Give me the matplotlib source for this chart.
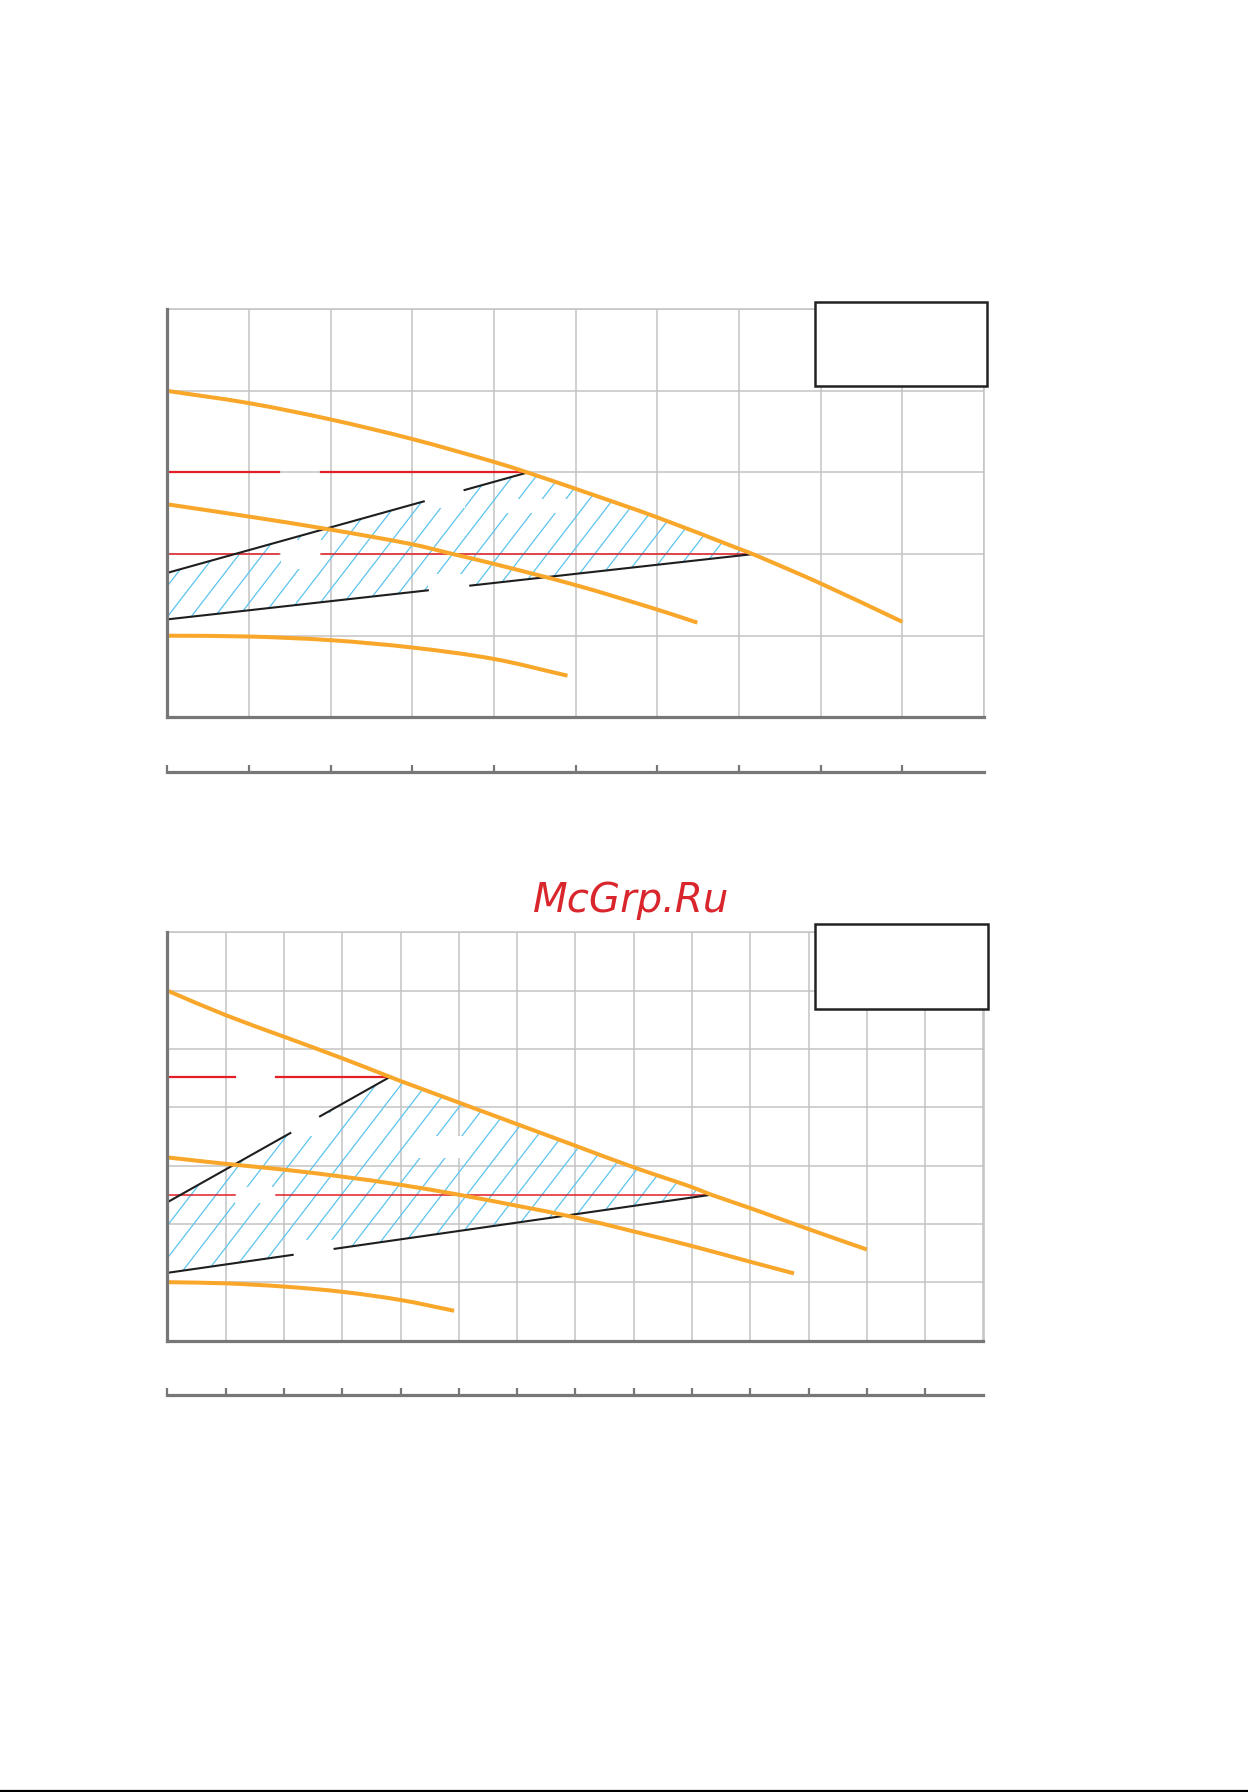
import numpy as np
import matplotlib
matplotlib.use("Agg")
import matplotlib.pyplot as plt
from matplotlib.patches import Polygon, Rectangle, PathPatch
from matplotlib.path import Path
from matplotlib.lines import Line2D

# ---------------- data (grid units) ----------------
# Chart 1
top1_x = [0, 1, 2, 3, 4, 4.41, 5, 6, 7, 7.17, 8, 9.0]
top1_y = [4.0, 3.85, 3.65, 3.41, 3.13, 3.0, 2.80, 2.45, 2.065, 2.0, 1.64, 1.17]
mid1_x = [0, 1, 2, 3, 3.5, 4, 5, 6, 6.49]
mid1_y = [2.61, 2.46, 2.30, 2.12, 2.0, 1.88, 1.62, 1.32, 1.16]
bot1_x = [0, 1, 2, 3, 4, 4.9]
bot1_y = [1.0, 0.99, 0.945, 0.855, 0.715, 0.51]
red1_levels = [3.0, 2.0]
red1_ends = [4.41, 7.17]
red1_gap = [1.37, 1.88]
blk1_upper = [(0, 1.77), (4.41, 3.0)]
blk1_upper_gap = [3.14, 3.64]
blk1_lower = [(0, 1.2), (7.17, 2.0)]
blk1_lower_gap = [3.19, 3.71]

# Chart 2
top2_x = [0, 1, 2, 3, 3.82, 4, 5, 6, 7, 8, 9, 9.33, 10, 11, 12.0]
top2_y = [6.0, 5.58, 5.21, 4.84, 4.52, 4.45, 4.08, 3.71, 3.34, 2.97, 2.63, 2.5, 2.27, 1.91, 1.56]
mid2_x = [0, 1, 2, 3, 4, 5, 6, 7, 8, 9, 10, 10.75]
mid2_y = [3.14, 3.03, 2.93, 2.81, 2.67, 2.50, 2.31, 2.11, 1.87, 1.62, 1.35, 1.15]
bot2_x = [0, 1, 2, 3, 4, 4.92]
bot2_y = [1.0, 0.98, 0.925, 0.835, 0.695, 0.51]
red2_levels = [4.52, 2.5]
red2_ends = [3.82, 9.33]
red2_gap = [1.16, 1.87]
blk2_upper = [(0, 2.37), (3.82, 4.52)]
blk2_upper_gap = [2.11, 2.62]
blk2_lower = [(0, 1.16), (9.33, 2.5)]
blk2_lower_gap = [2.15, 2.87]

ORANGE = '#F8A72A'
RED = '#E31E25'
BLACK = '#1e1e1e'
GRID = '#c3c3c3'
AXGRAY = '#777777'
HATCH = '#5cc4ee'

W, H = 1248, 1792
fig = plt.figure(figsize=(W / 100, H / 100), dpi=100)


def frac_rect(x0, y0, x1, y1):
    return [x0 / W, 1 - y1 / H, (x1 - x0) / W, (y1 - y0) / H]


def smooth_path(xs, ys):
    """Cubic Hermite (Bezier) path through the given points."""
    x = np.asarray(xs, float)
    y = np.asarray(ys, float)
    n = len(x)
    m = np.empty(n)
    m[0] = (y[1] - y[0]) / (x[1] - x[0])
    m[-1] = (y[-1] - y[-2]) / (x[-1] - x[-2])
    for i in range(1, n - 1):
        m[i] = (y[i + 1] - y[i - 1]) / (x[i + 1] - x[i - 1])
    verts = [(x[0], y[0])]
    codes = [Path.MOVETO]
    for i in range(n - 1):
        h = x[i + 1] - x[i]
        verts += [(x[i] + h / 3, y[i] + m[i] * h / 3),
                  (x[i + 1] - h / 3, y[i + 1] - m[i + 1] * h / 3),
                  (x[i + 1], y[i + 1])]
        codes += [Path.CURVE4] * 3
    return Path(verts, codes)


def seg_with_gap(ax, p0, p1, gap, **kw):
    (x0, y0), (x1, y1) = p0, p1
    s = (y1 - y0) / (x1 - x0)
    g0, g1 = gap
    ax.plot([x0, g0], [y0, y0 + s * (g0 - x0)], **kw)
    ax.plot([g1, x1], [y0 + s * (g1 - x0), y1], **kw)


def panel(rect, xmax, ymax, top, mid, bot, red_levels, red_ends, red_gap,
          blk_up, blk_up_gap, blk_lo, blk_lo_gap, legend_box, hatch_dx, masks,
          axis2_y):
    ax = fig.add_axes(rect)
    ax.set_xlim(0, xmax)
    ax.set_ylim(0, ymax)
    ax.set_xticks(range(0, xmax + 1))
    ax.set_yticks(range(0, ymax + 1))
    ax.tick_params(length=0, labelbottom=False, labelleft=False)
    ax.grid(True, color=GRID, lw=1.1, zorder=0)
    ax.set_axisbelow(True)
    for s in ('top', 'right'):
        ax.spines[s].set_color(GRID)
        ax.spines[s].set_linewidth(1.1)
    for s in ('left', 'bottom'):
        ax.spines[s].set_color(AXGRAY)
        ax.spines[s].set_linewidth(2.3)
        ax.spines[s].set_zorder(6)

    # hatched region: upper black line -> top curve -> lower black line
    tpath = smooth_path(*top)
    xm = blk_up[1][0]
    xe = blk_lo[1][0]
    xs_fine = np.linspace(xm, xe, 60)
    tv = tpath.interpolated(40).vertices
    tyf = np.interp(xs_fine, tv[:, 0], tv[:, 1])
    poly = [blk_up[0]] + list(zip(xs_fine, tyf)) + [blk_lo[1], blk_lo[0]]
    patch = Polygon(poly, closed=True, facecolor='none', edgecolor='none')
    ax.add_patch(patch)
    slope = 1.3
    for x0 in np.arange(-ymax / slope, xmax, hatch_dx):
        ln, = ax.plot([x0, x0 + ymax / slope], [0, ymax], color=HATCH, lw=0.9, zorder=1)
        ln.set_clip_path(patch)
    for (mx0, my0, mx1, my1) in masks:
        ax.add_patch(Rectangle((mx0, my0), mx1 - mx0, my1 - my0, facecolor='white',
                               edgecolor='none', zorder=1.5))

    # red lines
    for lev, end, lw in zip(red_levels, red_ends, [1.6, 1.1]):
        ax.plot([0, red_gap[0]], [lev, lev], color=RED, lw=lw, zorder=2)
        ax.plot([red_gap[1], end], [lev, lev], color=RED, lw=lw, zorder=2)

    # black lines
    seg_with_gap(ax, blk_up[0], blk_up[1], blk_up_gap, color=BLACK, lw=1.5, zorder=3)
    seg_with_gap(ax, blk_lo[0], blk_lo[1], blk_lo_gap, color=BLACK, lw=1.5, zorder=3)

    # pump curves (smooth)
    for cx, cy in (top, mid, bot):
        ax.add_patch(PathPatch(smooth_path(cx, cy), facecolor='none', edgecolor=ORANGE,
                               lw=2.9, zorder=4, capstyle='butt'))

    # legend frame (empty)
    bx0, by0, bx1, by1 = legend_box
    ax.add_patch(Rectangle((bx0, by0), bx1 - bx0, by1 - by0, facecolor='white',
                           edgecolor='#222222', lw=1.8, zorder=7, clip_on=False))

    # secondary scale axis below
    r2 = [rect[0], axis2_y, rect[2], 0.0001]
    ax2 = fig.add_axes(r2)
    ax2.set_xlim(0, xmax)
    ax2.set_ylim(0, 1)
    ax2.set_xticks(range(0, xmax))
    ax2.set_yticks([])
    ax2.tick_params(axis='x', direction='in', length=5.2, width=1.6, color=AXGRAY,
                    labelbottom=False)
    for s in ('top', 'right', 'left'):
        ax2.spines[s].set_visible(False)
    ax2.spines['bottom'].set_color(AXGRAY)
    ax2.spines['bottom'].set_linewidth(2.3)
    ax2.patch.set_visible(False)
    return ax


panel(frac_rect(167.3, 309.3, 984.0, 717.3), 10, 5,
      (top1_x, top1_y), (mid1_x, mid1_y), (bot1_x, bot1_y),
      red1_levels, red1_ends, red1_gap,
      blk1_upper, blk1_upper_gap, blk1_lower, blk1_lower_gap,
      (7.93, 4.06, 10.04, 5.09), 0.29,
      [(1.39, 1.82, 1.89, 2.17), (3.14, 2.56, 3.64, 2.80), (3.19, 1.5, 3.71, 1.75),
       (4.07, 2.5, 4.9, 2.68)],
      1 - 772.3 / H)

panel(frac_rect(167.3, 932.3, 983.5, 1340.5), 14, 7,
      (top2_x, top2_y), (mid2_x, mid2_y), (bot2_x, bot2_y),
      red2_levels, red2_ends, red2_gap,
      blk2_upper, blk2_upper_gap, blk2_lower, blk2_lower_gap,
      (11.11, 5.69, 14.07, 7.14), 0.43,
      [(2.11, 3.5, 2.83, 3.9), (4.23, 3.13, 5.1, 3.5), (1.16, 2.35, 1.87, 2.64),
       (2.15, 1.44, 2.87, 1.73)],
      1 - 1395 / H)

fig.text(631 / W, 1 - 911.7 / H, 'McGrp.Ru', ha='center', va='baseline',
         fontsize=29, style='italic', color='#D9262C', family='DejaVu Sans')

fig.add_artist(Line2D([0, 1], [1 - 1790.8 / H, 1 - 1790.8 / H], color='black', lw=1.6,
                      transform=fig.transFigure))

fig.savefig('out.png', dpi=100, facecolor='white')
